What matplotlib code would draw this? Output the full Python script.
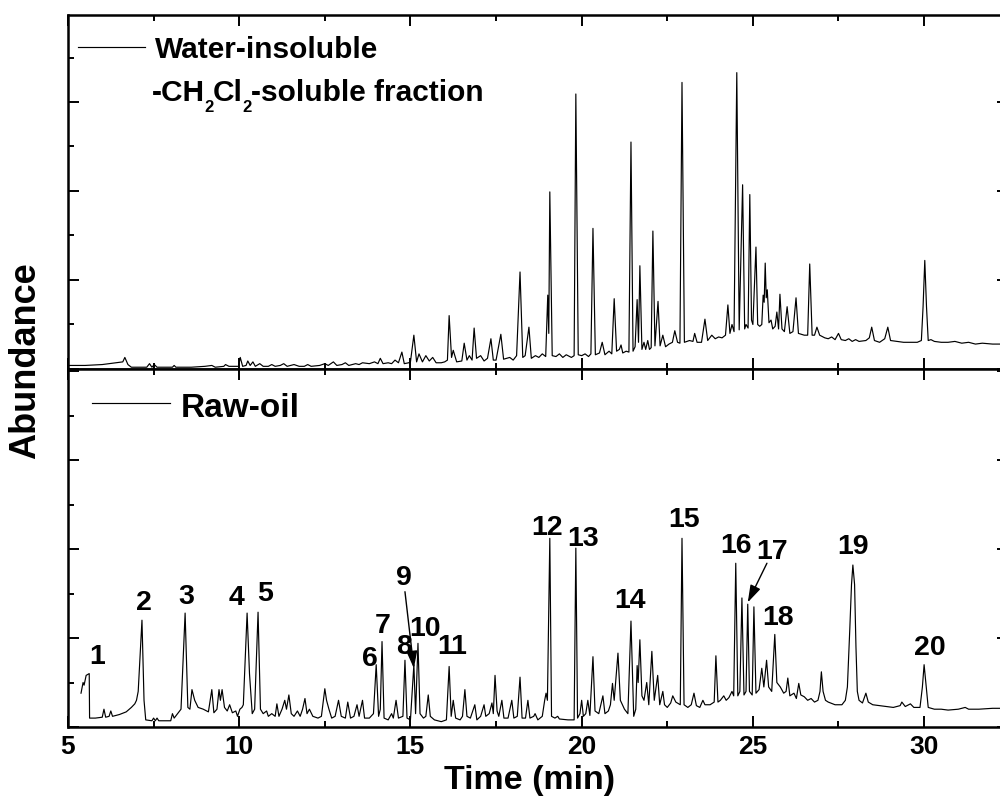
import matplotlib
matplotlib.use("Agg")
import matplotlib.pyplot as plt
from matplotlib.ticker import MultipleLocator, NullFormatter
from matplotlib.lines import Line2D

plt.rcParams['font.family'] = ['Liberation Sans', 'DejaVu Sans']
plt.rcParams['font.weight'] = 'bold'

# ---------------- data: water-insoluble CH2Cl2-soluble fraction (top) ----------------
top_time = [5.0, 5.5, 6.0, 6.4, 6.6, 6.66, 6.75, 6.85, 7.3, 7.38, 7.45, 7.52, 7.6, 8.05, 8.1, 8.15,
            8.6, 9.0, 9.2, 9.3, 9.55, 9.6, 9.7, 9.98, 10.03, 10.1, 10.2, 10.25, 10.32, 10.4, 10.47,
            10.6, 10.7, 10.85, 10.95, 11.05, 11.2, 11.3, 11.4, 11.6, 11.75, 11.9, 12.0, 12.1, 12.35,
            12.5, 12.6, 12.75, 12.85, 13.0, 13.1, 13.2, 13.4, 13.5, 13.6, 13.8, 13.95, 14.05, 14.12,
            14.2, 14.35, 14.45, 14.55, 14.65, 14.75, 14.82, 14.95, 15.0, 15.1, 15.18, 15.25, 15.35,
            15.45, 15.55, 15.65, 15.75, 15.9, 16.0, 16.08, 16.13, 16.2, 16.25, 16.35, 16.5, 16.57,
            16.65, 16.72, 16.8, 16.86, 16.93, 17.05, 17.15, 17.25, 17.35, 17.42, 17.5, 17.64, 17.72,
            17.9, 18.0, 18.1, 18.2, 18.28, 18.35, 18.46, 18.53, 18.65, 18.75, 18.85, 18.95, 19.01,
            19.04, 19.07, 19.14, 19.25, 19.35, 19.45, 19.55, 19.7, 19.78, 19.83, 19.9, 20.0, 20.1,
            20.2, 20.27, 20.33, 20.4, 20.52, 20.6, 20.68, 20.8, 20.88, 20.95, 21.02, 21.1, 21.15,
            21.2, 21.3, 21.38, 21.44, 21.5, 21.56, 21.62, 21.66, 21.7, 21.76, 21.82, 21.87, 21.93,
            21.98, 22.03, 22.08, 22.14, 22.23, 22.29, 22.37, 22.45, 22.55, 22.65, 22.72, 22.8, 22.87,
            22.93, 23.0, 23.15, 23.25, 23.3, 23.37, 23.5, 23.6, 23.68, 23.8, 23.9, 24.0, 24.1, 24.2,
            24.27, 24.33, 24.39, 24.45, 24.53, 24.6, 24.7, 24.76, 24.8, 24.86, 24.91, 24.96, 25.0,
            25.09, 25.14, 25.2, 25.26, 25.3, 25.33, 25.36, 25.39, 25.42, 25.47, 25.53, 25.58, 25.65,
            25.7, 25.75, 25.79, 25.85, 25.92, 26.0, 26.08, 26.17, 26.26, 26.33, 26.5, 26.6, 26.66,
            26.73, 26.8, 26.87, 26.95, 27.1, 27.2, 27.3, 27.4, 27.5, 27.58, 27.7, 27.8, 27.9, 28.0,
            28.1, 28.3, 28.4, 28.47, 28.55, 28.7, 28.85, 28.94, 29.02, 29.2, 29.4, 29.6, 29.8, 29.92,
            29.97, 30.02, 30.07, 30.12, 30.2, 30.3, 30.5, 30.7, 30.9, 31.1, 31.3, 31.5, 31.7, 32.0, 32.45]
top_abund = [0.04, 0.04, 0.05, 0.07, 0.08, 0.13, 0.05, 0.02, 0.02, 0.06, 0.02, 0.05, 0.02, 0.02, 0.04, 0.02,
             0.02, 0.03, 0.04, 0.02, 0.03, 0.05, 0.03, 0.03, 0.13, 0.03, 0.04, 0.09, 0.04, 0.08, 0.03,
             0.06, 0.03, 0.03, 0.05, 0.03, 0.04, 0.06, 0.03, 0.05, 0.03, 0.03, 0.05, 0.03, 0.04,
             0.06, 0.04, 0.08, 0.04, 0.05, 0.07, 0.04, 0.06, 0.05, 0.07, 0.06, 0.08, 0.06, 0.12,
             0.06, 0.07, 0.06, 0.10, 0.07, 0.19, 0.06, 0.07, 0.08, 0.38, 0.08, 0.17, 0.08,
             0.15, 0.09, 0.13, 0.07, 0.07, 0.08, 0.10, 0.60, 0.13, 0.21, 0.08, 0.09, 0.29,
             0.10, 0.15, 0.10, 0.46, 0.12, 0.15, 0.09, 0.12, 0.34, 0.10, 0.10, 0.39, 0.11,
             0.13, 0.10, 0.15, 1.09, 0.13, 0.15, 0.47, 0.12, 0.15, 0.13, 0.17, 0.14, 0.83,
             0.40, 1.99, 0.15, 0.14, 0.17, 0.13, 0.16, 0.13, 0.15, 3.09, 0.16, 0.15, 0.17,
             0.14, 0.17, 1.58, 0.16, 0.18, 0.30, 0.16, 0.20, 0.17, 0.79, 0.20, 0.22, 0.27,
             0.18, 0.20, 0.19, 2.55, 0.20, 0.25, 0.78, 0.30, 1.16, 0.22, 0.30, 0.22, 0.32,
             0.22, 0.24, 1.55, 0.26, 0.76, 0.26, 0.38, 0.25, 0.28, 0.30, 0.43, 0.30, 0.29,
             3.22, 0.30, 0.32, 0.31, 0.40, 0.30, 0.30, 0.56, 0.32, 0.38, 0.34, 0.36, 0.35, 0.38,
             0.72, 0.40, 0.50, 0.42, 3.33, 0.44, 2.07, 0.45, 0.50, 0.46, 1.96, 0.55, 0.50,
             1.37, 0.50, 0.48, 0.50, 0.83, 0.75, 1.19, 0.80, 0.89, 0.52, 0.55, 0.45, 0.48,
             0.64, 0.45, 0.84, 0.45, 0.42, 0.70, 0.40, 0.42, 0.80, 0.40, 0.38, 0.38, 1.18,
             0.38, 0.38, 0.47, 0.38, 0.35, 0.34, 0.36, 0.33, 0.40, 0.33, 0.32, 0.34, 0.31, 0.33,
             0.31, 0.32, 0.35, 0.47, 0.32, 0.30, 0.34, 0.47, 0.32, 0.31, 0.30, 0.30, 0.30, 0.32,
             0.70, 1.22, 0.70, 0.32, 0.33, 0.31, 0.30, 0.30, 0.31, 0.29, 0.30, 0.28, 0.29, 0.28, 0.28]

# ---------------- data: raw oil (bottom) ----------------
raw_time = [5.38, 5.44, 5.47, 5.53, 5.62, 5.63, 5.8, 6.0, 6.05, 6.1, 6.2, 6.25, 6.3, 6.5, 6.7, 6.85,
            6.95, 7.0, 7.05, 7.16, 7.22, 7.27, 7.45, 7.5, 7.55, 7.6, 7.65, 8.0, 8.05, 8.1, 8.2, 8.3,
            8.42, 8.5, 8.56, 8.62, 8.7, 8.8, 8.95, 9.1, 9.2, 9.26, 9.35, 9.41, 9.45, 9.5, 9.57, 9.65,
            9.72, 9.8, 9.9, 9.95, 10.02, 10.08, 10.12, 10.23, 10.3, 10.38, 10.45, 10.55, 10.62, 10.7,
            10.8, 10.85, 10.95, 11.05, 11.1, 11.16, 11.25, 11.33, 11.38, 11.45, 11.52, 11.6, 11.7,
            11.78, 11.85, 11.92, 11.98, 12.05, 12.15, 12.3, 12.4, 12.5, 12.55, 12.62, 12.7, 12.8,
            12.9, 12.98, 13.1, 13.17, 13.25, 13.35, 13.44, 13.5, 13.6, 13.66, 13.8, 13.92, 14.0,
            14.07, 14.12, 14.17, 14.23, 14.35, 14.45, 14.5, 14.58, 14.65, 14.78, 14.84, 14.9, 15.0,
            15.1, 15.15, 15.22, 15.28, 15.38, 15.45, 15.52, 15.58, 15.7, 15.9, 16.05, 16.13, 16.19,
            16.25, 16.32, 16.45, 16.52, 16.59, 16.65, 16.75, 16.88, 16.94, 17.05, 17.15, 17.2, 17.3,
            17.38, 17.42, 17.47, 17.53, 17.58, 17.67, 17.73, 17.85, 17.96, 18.02, 18.12, 18.2, 18.26,
            18.36, 18.43, 18.49, 18.6, 18.64, 18.72, 18.85, 18.92, 18.96, 19.0, 19.07, 19.12, 19.22,
            19.3, 19.35, 19.6, 19.78, 19.83, 19.88, 19.95, 20.0, 20.05, 20.12, 20.18, 20.24, 20.33,
            20.39, 20.5, 20.62, 20.68, 20.78, 20.84, 20.9, 20.95, 21.06, 21.13, 21.25, 21.35, 21.44,
            21.52, 21.58, 21.62, 21.65, 21.7, 21.76, 21.82, 21.9, 21.96, 22.05, 22.12, 22.22, 22.28,
            22.37, 22.42, 22.5, 22.6, 22.66, 22.75, 22.88, 22.93, 22.99, 23.1, 23.2, 23.28, 23.35,
            23.45, 23.54, 23.6, 23.75, 23.87, 23.92, 23.98, 24.05, 24.15, 24.22, 24.3, 24.39, 24.44,
            24.5, 24.56, 24.62, 24.68, 24.74, 24.8, 24.85, 24.9, 24.98, 25.03, 25.09, 25.18, 25.26,
            25.32, 25.4, 25.46, 25.55, 25.64, 25.7, 25.8, 25.9, 25.97, 26.02, 26.08, 26.2, 26.27,
            26.34, 26.4, 26.5, 26.6, 26.7, 26.8, 26.9, 26.96, 27.0, 27.05, 27.12, 27.2, 27.4, 27.6,
            27.7, 27.76, 27.83, 27.88, 27.92, 27.97, 28.01, 28.05, 28.1, 28.2, 28.3, 28.37, 28.5,
            28.7, 28.9, 29.1, 29.3, 29.35, 29.45, 29.6, 29.7, 29.88, 29.95, 30.0, 30.05, 30.12,
            30.3, 30.5, 30.7, 31.0, 31.2, 31.3, 31.6, 32.0, 32.45]
raw_abund = [0.38, 0.50, 0.47, 0.58, 0.60, 0.10, 0.10, 0.11, 0.20, 0.11, 0.12, 0.18, 0.12, 0.14, 0.17, 0.22,
             0.26, 0.30, 0.40, 1.20, 0.30, 0.08, 0.07, 0.10, 0.07, 0.10, 0.07, 0.07, 0.15, 0.10, 0.15, 0.20,
             1.28, 0.22, 0.20, 0.42, 0.30, 0.22, 0.20, 0.17, 0.42, 0.16, 0.20, 0.42, 0.30, 0.42, 0.22, 0.18,
             0.25, 0.16, 0.18, 0.12, 0.20, 0.22, 0.25, 1.28, 0.60, 0.15, 0.20, 1.29, 0.20, 0.15,
             0.18, 0.12, 0.15, 0.12, 0.26, 0.12, 0.20, 0.30, 0.20, 0.36, 0.15, 0.12, 0.18,
             0.12, 0.20, 0.32, 0.15, 0.20, 0.12, 0.10, 0.12, 0.43, 0.30, 0.20, 0.10, 0.12,
             0.30, 0.12, 0.10, 0.28, 0.10, 0.12, 0.25, 0.12, 0.30, 0.10, 0.10, 0.15, 0.70,
             0.12, 0.20, 0.96, 0.10, 0.08, 0.15, 0.10, 0.30, 0.10, 0.12, 0.75, 0.10, 0.08,
             0.70, 0.15, 0.94, 0.15, 0.10, 0.12, 0.36, 0.12, 0.08, 0.06, 0.08, 0.68, 0.12,
             0.30, 0.10, 0.08, 0.12, 0.42, 0.12, 0.10, 0.25, 0.08, 0.12, 0.25, 0.12, 0.15,
             0.27, 0.15, 0.58, 0.18, 0.12, 0.30, 0.10, 0.10, 0.30, 0.10, 0.12, 0.56, 0.10,
             0.10, 0.30, 0.10, 0.12, 0.15, 0.08, 0.12, 0.30, 0.38, 0.30, 2.12, 0.12, 0.10,
             0.12, 0.09, 0.08, 0.08, 2.01, 0.10, 0.15, 0.30, 0.12, 0.15, 0.30, 0.13, 0.79,
             0.18, 0.15, 0.35, 0.15, 0.18, 0.25, 0.49, 0.30, 0.83, 0.30, 0.20, 0.15, 1.19,
             0.12, 0.20, 0.69, 0.50, 0.98, 0.35, 0.30, 0.50, 0.25, 0.85, 0.30, 0.58, 0.25,
             0.40, 0.25, 0.22, 0.27, 0.35, 0.28, 0.25, 2.12, 0.25, 0.22, 0.25, 0.38, 0.24,
             0.22, 0.30, 0.25, 0.25, 0.28, 0.80, 0.28, 0.30, 0.35, 0.30, 0.33, 0.40, 0.35,
             1.84, 0.35, 0.40, 1.45, 0.36, 0.40, 1.38, 0.40, 0.36, 1.35, 0.38, 0.42, 0.66,
             0.45, 0.75, 0.45, 0.40, 1.04, 0.50, 0.45, 0.38, 0.40, 0.55, 0.35, 0.38, 0.32,
             0.49, 0.36, 0.34, 0.30, 0.32, 0.28, 0.30, 0.40, 0.62, 0.40, 0.30, 0.28, 0.25, 0.25,
             0.30, 0.45, 1.10, 1.60, 1.82, 1.60, 0.90, 0.40, 0.30, 0.27, 0.38, 0.28, 0.25,
             0.24, 0.23, 0.22, 0.24, 0.28, 0.23, 0.26, 0.22, 0.22, 0.45, 0.70, 0.50, 0.22,
             0.20, 0.20, 0.19, 0.20, 0.22, 0.20, 0.20, 0.21, 0.21]

# ---------------- peak labels (raw oil) ----------------
peak_labels = ['1', '2', '3', '4', '5', '6', '7', '8', '9', '10',
               '11', '12', '13', '14', '15', '16', '17', '18', '19', '20']
label_time = [5.85, 7.22, 8.45, 9.93, 10.75, 13.82, 14.2, 14.81, 14.81, 15.42,
              16.21, 18.99, 20.04, 21.41, 22.99, 24.5, 25.55, 25.73, 27.92, 30.17]
label_abund = [0.79, 1.39, 1.46, 1.45, 1.49, 0.76, 1.13, 0.90, 1.67, 1.10,
               0.90, 2.24, 2.11, 1.42, 2.33, 2.03, 1.97, 1.22, 2.02, 0.89]
# arrows: (label end) -> (peak tip)
arrow_from = [(14.84, 1.52), (25.41, 1.84)]
arrow_to = [(15.1, 0.66), (24.85, 1.40)]

W, H = 1000, 800
fig = plt.figure(figsize=(10, 8), dpi=100)
L, R = 0.068, 1.008
ax_top = fig.add_axes([L, 1 - 369 / H, R - L, 354 / H])
ax_bot = fig.add_axes([L, 1 - 727 / H, R - L, 358 / H])

for ax, ymax in ((ax_top, 354 / 89), (ax_bot, 358 / 89)):
    ax.set_xlim(5, 32.45)
    ax.set_ylim(0, ymax)
    ax.xaxis.set_major_locator(MultipleLocator(5))
    ax.xaxis.set_minor_locator(MultipleLocator(2.5))
    ax.yaxis.set_major_locator(MultipleLocator(1))
    ax.yaxis.set_minor_locator(MultipleLocator(0.5))
    ax.yaxis.set_major_formatter(NullFormatter())
    ax.tick_params(which='both', direction='in', top=True, right=True, width=1.4)
    ax.tick_params(which='major', length=8)
    ax.tick_params(which='minor', length=4.5)
    for s in ax.spines.values():
        s.set_linewidth(1.8)

ax_top.xaxis.set_major_formatter(NullFormatter())
ax_top.plot(top_time, top_abund, color='black', lw=0.85)
ax_bot.plot(raw_time, raw_abund, color='black', lw=0.85)

ax_bot.tick_params(axis='x', labelsize=19, pad=6)
for lab in ax_bot.get_xticklabels():
    lab.set_fontweight('bold')

renderer = fig.canvas.get_renderer()


def pieces_text(x_px, y_px, parts):
    """Draw consecutive text pieces (text, size, baseline drop px) starting at pixel (x, y from top)."""
    x = x_px
    for txt, size, drop in parts:
        t = fig.text(x / W, 1 - (y_px + drop) / H, txt, fontsize=size, fontweight='bold',
                     ha='left', va='baseline')
        bb = t.get_window_extent(renderer=renderer)
        x = bb.x1 - 0.5


# legends (drawn manually)
ax_top.add_line(Line2D([10 / 940, 77 / 940], [1 - 32 / 354, 1 - 32 / 354],
                       transform=ax_top.transAxes, color='black', lw=0.85))
pieces_text(155, 58, [('Water-insoluble', 21.5, 0)])
pieces_text(152, 101, [('-CH', 21.5, 0), ('2', 12, 11), ('Cl', 21.5, 0), ('2', 12, 11),
                       ('-soluble fraction', 21.5, 0)])

ax_bot.add_line(Line2D([24 / 940, 102 / 940], [1 - 34 / 358, 1 - 34 / 358],
                       transform=ax_bot.transAxes, color='black', lw=0.85))
pieces_text(181, 417, [('Raw-oil', 24, 0)])

for lab, t, v in zip(peak_labels, label_time, label_abund):
    ax_bot.text(t, v, lab, fontsize=20.5, fontweight='bold', ha='center', va='center')

for p0, p1 in zip(arrow_from, arrow_to):
    ax_bot.annotate('', xy=p1, xytext=p0,
                    arrowprops=dict(arrowstyle='-|>,head_length=0.7,head_width=0.22',
                                    color='black', lw=1.0, mutation_scale=15,
                                    shrinkA=0, shrinkB=0))

fig.text(530 / W, 1 - 781 / H, 'Time (min)', fontsize=24.5, fontweight='bold',
         ha='center', va='center')
fig.text(26 / W, 1 - 361 / H, 'Abundance', fontsize=26, fontweight='bold',
         ha='center', va='center', rotation=90)

fig.savefig('out.png', dpi=100)
